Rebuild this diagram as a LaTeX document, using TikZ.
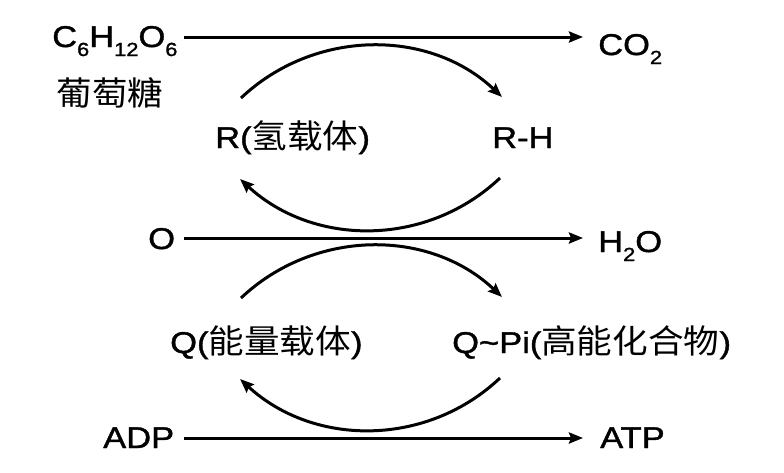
\documentclass[tikz,border=0pt]{standalone}
\usepackage{fontspec}
\setmainfont{Liberation Sans}[FakeStretch=1.15,FakeBold=1.3]
\newfontfamily\cjk{Noto Sans CJK SC}[FakeStretch=1.08]
\usetikzlibrary{arrows.meta}
\newcommand{\mysub}[1]{\raisebox{-9pt}{\fontsize{19pt}{19pt}\selectfont #1}}
\newcommand{\zh}[1]{{\cjk\fontsize{33pt}{33pt}\selectfont #1}}
\tikzset{
  txt/.style={anchor=base west, inner sep=0pt, font=\fontsize{30pt}{36pt}\selectfont},
  zhtxt/.style={inner sep=0pt, font=\cjk\fontsize{33pt}{36pt}\selectfont},
  arr/.style={line width=3pt, -{Stealth[length=14pt,width=11pt,inset=2pt]}},
}
\begin{document}
\begin{tikzpicture}[x=1pt,y=-1pt]
\useasboundingbox (0,0) rectangle (784,472);
% texts
\node[txt] (glc) at (52,47) {C\mysub{6}H\mysub{12}O\mysub{6}};
\node[txt] (co2) at (598,55) {CO\mysub{2}};
\node[zhtxt] (ptt) at (110,93) {葡萄糖};
\node[txt] (r) at (215,148) {R(\zh{氢载体})};
\node[txt] (rh) at (492,148) {R-H};
\node[txt] (o) at (148,249) {O};
\node[txt] (h2o) at (598,252) {H\mysub{2}O};
\node[txt] (q) at (170,353) {Q(\zh{能量载体})};
\node[txt] (qpi) at (452,353) {Q\textasciitilde Pi(\zh{高能化合物})};
\node[txt] (adp) at (103,448) {ADP};
\node[txt] (atp) at (600,448) {ATP};
% connector end points
\coordinate (a1s) at (184,37);  \coordinate (a1e) at (583,37);
\coordinate (a2s) at (184,238); \coordinate (a2e) at (583,238);
\coordinate (a3s) at (184,438); \coordinate (a3e) at (583,438);
\coordinate (rt) at (241,98);   \coordinate (rht) at (502,97);
\coordinate (rhb) at (500,178); \coordinate (rb) at (240,179);
\coordinate (qt) at (241,298);  \coordinate (qpit) at (502,297);
\coordinate (qpib) at (500,378); \coordinate (qb) at (240,379);
% straight arrows
\draw[arr] (a1s) -- (a1e);
\draw[arr] (a2s) -- (a2e);
\draw[arr] (a3s) -- (a3e);
% arcs
\draw[arr] (rt) .. controls (314,29) and (429,28) .. (rht);
\draw[arr] (rhb) .. controls (427,247) and (314,247) .. (rb);
\draw[arr] (qt) .. controls (314,229) and (429,228) .. (qpit);
\draw[arr] (qpib) .. controls (427,447) and (314,447) .. (qb);
\end{tikzpicture}
\end{document}
